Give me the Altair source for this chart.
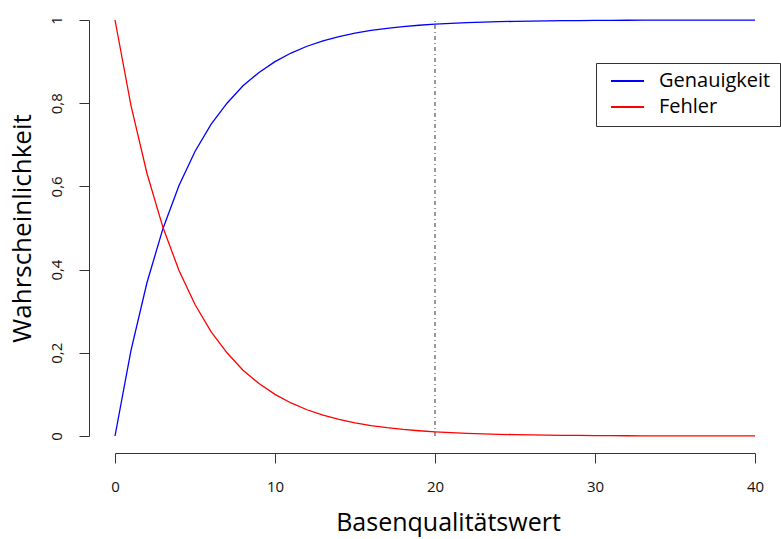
import altair as alt
import pandas as pd

quality = list(range(0, 41))
fehler = [1.0, 0.794, 0.631, 0.501, 0.398, 0.316, 0.251, 0.200, 0.158, 0.126,
          0.100, 0.0794, 0.0631, 0.0501, 0.0398, 0.0316, 0.0251, 0.0200, 0.0158, 0.0126,
          0.0100, 0.0079, 0.0063, 0.0050, 0.0040, 0.0032, 0.0025, 0.0020, 0.0016, 0.0013,
          0.0010, 0.0008, 0.0006, 0.0005, 0.0004, 0.0003, 0.0003, 0.0002, 0.0002, 0.0001,
          0.0001]
genauigkeit = [0.0, 0.206, 0.369, 0.499, 0.602, 0.684, 0.749, 0.800, 0.842, 0.874,
               0.900, 0.9206, 0.9369, 0.9499, 0.9602, 0.9684, 0.9749, 0.9800, 0.9842, 0.9874,
               0.9900, 0.9921, 0.9937, 0.9950, 0.9960, 0.9968, 0.9975, 0.9980, 0.9984, 0.9987,
               0.9990, 0.9992, 0.9994, 0.9995, 0.9996, 0.9997, 0.9997, 0.9998, 0.9998, 0.9999,
               0.9999]
series_names = ["Genauigkeit", "Fehler"]
series_colors = ["#0000FF", "#FF0000"]
x_ticks = [0, 10, 20, 30, 40]
y_ticks = [0, 0.2, 0.4, 0.6, 0.8, 1]
vline_x = [20]

FONT = "Open Sans"

df = pd.concat([
    pd.DataFrame({"q": quality, "p": genauigkeit, "s": series_names[0]}),
    pd.DataFrame({"q": quality, "p": fehler, "s": series_names[1]}),
])

xscale = alt.Scale(domain=[0, 40], nice=False, zero=False)
yscale = alt.Scale(domain=[0, 1], nice=False, zero=False)

lines = alt.Chart(df).mark_line(strokeWidth=1.3, clip=False).encode(
    x=alt.X("q:Q", scale=xscale,
            axis=alt.Axis(title="Basenqualitätswert", values=x_ticks, offset=17,
                          tickSize=10, labelPadding=16, labelFontSize=15,
                          labelFlush=False, titleX=333,
                          titleFontSize=25, titlePadding=16, labelFont=FONT,
                          titleFont=FONT, titleFontWeight="normal",
                          grid=False, domainColor="#333333", tickColor="#333333",
                          labelColor="#111111", titleColor="#000000")),
    y=alt.Y("p:Q", scale=yscale,
            axis=alt.Axis(title="Wahrscheinlichkeit", values=y_ticks, offset=26,
                          tickSize=10, labelPadding=15, labelFontSize=15,
                          labelFlush=False,
                          labelAngle=-90, labelAlign="center", labelBaseline="bottom",
                          labelExpr="replace(format(datum.value, '.1~f'), '.', ',')",
                          titleFontSize=26, titlePadding=14, labelFont=FONT,
                          titleFont=FONT, titleFontWeight="normal",
                          grid=False, domainColor="#333333", tickColor="#333333",
                          labelColor="#111111", titleColor="#000000")),
    color=alt.Color("s:N", scale=alt.Scale(domain=series_names, range=series_colors),
                    sort=series_names,
                    legend=alt.Legend(title=None, orient="none", legendX=481, legendY=43,
                                      symbolType="stroke", symbolSize=1089,
                                      symbolStrokeWidth=2, labelFontSize=20,
                                      labelFont=FONT, labelColor="#000000",
                                      labelOffset=14, strokeColor="#333333",
                                      padding=9, rowPadding=6, clipHeight=18,
                                      symbolOffset=5, cornerRadius=0,
                                      fillColor="white")),
)

vline = alt.Chart(pd.DataFrame({"x": vline_x, "y0": [0], "y1": [1]})).mark_rule(
    color="#333333", strokeWidth=1, strokeDash=[4, 3, 1, 3]
).encode(x=alt.X("x:Q", scale=xscale), y=alt.Y("y0:Q", scale=yscale), y2="y1:Q")

chart = alt.layer(vline, lines).properties(
    width=640, height=416,
    background="white",
    autosize=alt.AutoSizeParams(type="none"),
    padding={"left": 115, "top": 20, "right": 26, "bottom": 103},
).configure_view(strokeWidth=0, stroke=None)

chart.save("out.html", embed_options={"renderer": "svg", "actions": False})
